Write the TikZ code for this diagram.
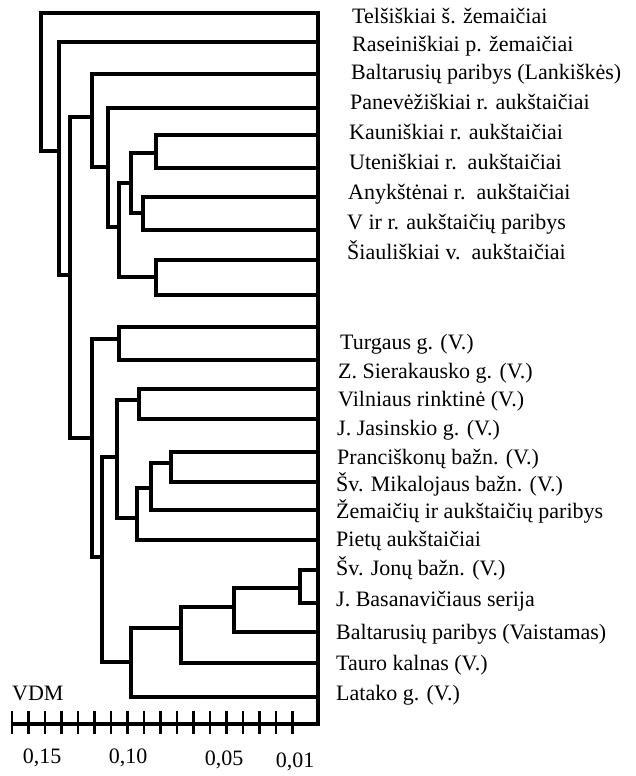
\documentclass[tikz,border=0pt]{standalone}
\usepackage{fontspec}
\setmainfont{Liberation Serif}
\begin{document}
\begin{tikzpicture}[x=1pt,y=-1pt,
  tree/.style={line width=4.2pt, line join=miter, line cap=rect},
  axisline/.style={line width=4pt, line join=miter},
  tickmark/.style={line width=2.8pt},
  lab/.style={anchor=base west, inner sep=0pt, font=\fontsize{22}{25}\selectfont},
  num/.style={inner sep=0pt, font=\fontsize{22}{25}\selectfont}]
\useasboundingbox (0,0) rectangle (635,776);
% right collecting line and axis
\draw[axisline] (318,13) -- (318,724) -- (12,724);
% ---- group 1 ----
\draw[tree] (318,13) -- (41,13) -- (41,151) -- (59,151);
\draw[tree] (318,42) -- (59,42) -- (59,275) -- (70,275);
\draw[tree] (92,117) -- (70,117) -- (70,438) -- (92,438);
\draw[tree] (318,74) -- (92,74) -- (92,167) -- (108,167);
\draw[tree] (318,108) -- (108,108) -- (108,227) -- (119,227);
\draw[tree] (131,183) -- (119,183) -- (119,277) -- (156,277);
\draw[tree] (156,153) -- (131,153) -- (131,213) -- (143,213);
\draw[tree] (318,135) -- (156,135) -- (156,168) -- (318,168);
\draw[tree] (318,197) -- (143,197) -- (143,230) -- (318,230);
\draw[tree] (318,260) -- (156,260) -- (156,295) -- (318,295);
% ---- group 2 ----
\draw[tree] (119,339) -- (92,339) -- (92,557) -- (102,557);
\draw[tree] (318,327) -- (119,327) -- (119,360) -- (318,360);
\draw[tree] (117,457) -- (102,457) -- (102,662) -- (131,662);
\draw[tree] (139,400) -- (117,400) -- (117,518) -- (137,518);
\draw[tree] (318,389) -- (139,389) -- (139,419) -- (318,419);
\draw[tree] (151,488) -- (137,488) -- (137,540) -- (318,540);
\draw[tree] (171,463) -- (151,463) -- (151,510) -- (318,510);
\draw[tree] (318,452) -- (171,452) -- (171,482) -- (318,482);
\draw[tree] (181,628) -- (131,628) -- (131,697) -- (318,697);
\draw[tree] (234,607) -- (181,607) -- (181,663) -- (318,663);
\draw[tree] (300,588) -- (234,588) -- (234,632) -- (318,632);
\draw[tree] (318,570) -- (300,570) -- (300,603) -- (318,603);
% ticks
\foreach \i in {0,...,17} \draw[tickmark] ({12+16.5*\i},711) -- ++(0,23);
% axis labels
\node[lab, anchor=west] (vdm) at (12,693) {VDM};
\node[num] (s15) at (42,758) {0,15};
\node[num] (s10) at (128,758) {0,10};
\node[num] (s05) at (224,760) {0,05};
\node[num] (s01) at (295,762) {0,01};
% leaf labels group 1
\node[lab] (t1) at (352,24) {Telšiškiai š. žemaičiai};
\node[lab] (t2) at (352,52) {Raseiniškiai p. žemaičiai};
\node[lab] (t3) at (351,80) {Baltarusių paribys (Lankiškės)};
\node[lab] (t4) at (350,109) {Panevėžiškiai r. aukštaičiai};
\node[lab] (t5) at (349,139) {Kauniškiai r. aukštaičiai};
\node[lab] (t6) at (349,169) {Uteniškiai r.\ \ aukštaičiai};
\node[lab] (t7) at (348,199) {Anykštėnai r.\ \ aukštaičiai};
\node[lab] (t8) at (347,229) {V ir r. aukštaičių paribys};
\node[lab] (t9) at (347,259) {Šiauliškiai v.\ \ aukštaičiai};
% leaf labels group 2
\node[lab] (u1) at (340,349) {Turgaus g. (V.)};
\node[lab] (u2) at (338,378) {Z. Sierakausko g. (V.)};
\node[lab] (u3) at (338,406) {Vilniaus rinktinė (V.)};
\node[lab] (u4) at (337,435) {J. Jasinskio g. (V.)};
\node[lab] (u5) at (337,464) {Pranciškonų bažn. (V.)};
\node[lab] (u6) at (336,491) {Šv. Mikalojaus bažn. (V.)};
\node[lab] (u7) at (336,518) {Žemaičių ir aukštaičių paribys};
\node[lab] (u8) at (336,546) {Pietų aukštaičiai};
\node[lab] (u9) at (336,575) {Šv. Jonų bažn. (V.)};
\node[lab] (u10) at (336,606) {J. Basanavičiaus serija};
\node[lab] (u11) at (336,639) {Baltarusių paribys (Vaistamas)};
\node[lab] (u12) at (336,670) {Tauro kalnas (V.)};
\node[lab] (u13) at (336,700) {Latako g. (V.)};
\end{tikzpicture}
\end{document}
